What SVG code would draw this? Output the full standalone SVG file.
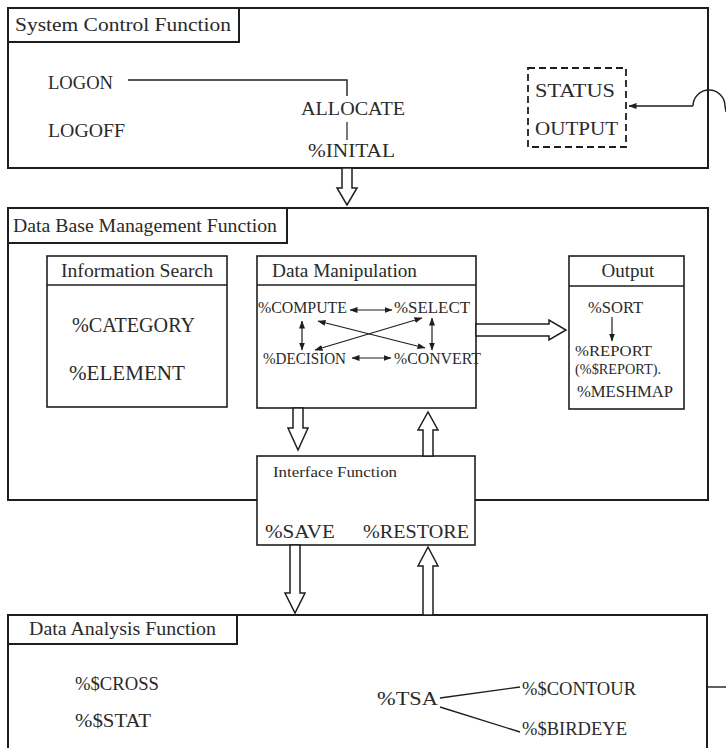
<svg xmlns="http://www.w3.org/2000/svg" width="726" height="748" viewBox="0 0 726 748">
<style>
  text { font-family: "Liberation Serif", "Times New Roman", serif; fill: #2a2a2a; }
  .frame { fill: none; stroke: #1e1e1e; stroke-width: 2; }
  .box { fill: #fff; stroke: #1e1e1e; stroke-width: 1.6; }
  .ln { fill: none; stroke: #1e1e1e; stroke-width: 1.4; }
  .thin { fill: none; stroke: #1e1e1e; stroke-width: 1.2; }
  .hollow { fill: #fff; stroke: #1e1e1e; stroke-width: 1.5; stroke-linejoin: miter; }
  .dash { fill: none; stroke: #1e1e1e; stroke-width: 1.8; stroke-dasharray: 7 4; }
  .t18 { font-size: 18px; }
  .t20 { font-size: 20px; }
  .t15 { font-size: 16px; }
  .t17 { font-size: 18px; }
  .t14 { font-size: 14px; }
</style>
<defs>
  <marker id="ah" markerWidth="8" markerHeight="6" refX="7.5" refY="3" orient="auto-start-reverse" markerUnits="userSpaceOnUse">
    <path d="M0,0 L8,3 L0,6 Z" fill="#1e1e1e"/>
  </marker>
</defs>
<rect width="726" height="748" fill="#fff"/>

<!-- System Control Function -->
<g id="system-control">
  <rect class="frame" x="8" y="8" width="700" height="160"/>
  <rect class="frame" x="8" y="8" width="231" height="34"/>
  <text class="t18" x="15" y="31" textLength="216" lengthAdjust="spacingAndGlyphs">System Control Function</text>
  <text class="t18" x="48" y="89" textLength="65" lengthAdjust="spacingAndGlyphs">LOGON</text>
  <text class="t18" x="48" y="137" textLength="77" lengthAdjust="spacingAndGlyphs">LOGOFF</text>
  <text class="t18" x="301" y="115" textLength="104" lengthAdjust="spacingAndGlyphs">ALLOCATE</text>
  <text class="t18" x="308" y="157" textLength="87" lengthAdjust="spacingAndGlyphs">%INITAL</text>
</g>
<g id="status-output">
  <rect class="dash" x="528" y="68" width="98" height="79"/>
  <text class="t18" x="535" y="97" textLength="80" lengthAdjust="spacingAndGlyphs">STATUS</text>
  <text class="t18" x="535" y="135" textLength="83" lengthAdjust="spacingAndGlyphs">OUTPUT</text>
</g>

<!-- Data Base Management Function -->
<g id="data-base-management">
  <rect class="frame" x="8" y="208" width="700" height="292"/>
  <rect class="frame" x="8" y="208" width="279" height="35"/>
  <text class="t18" x="13" y="232" textLength="264" lengthAdjust="spacingAndGlyphs">Data Base Management Function</text>
</g>
<g id="information-search">
  <rect class="box" x="47" y="256" width="180" height="151"/>
  <line class="ln" x1="47" y1="285" x2="227" y2="285"/>
  <text class="t17" x="61" y="277" textLength="152" lengthAdjust="spacingAndGlyphs">Information Search</text>
  <text class="t20" x="72" y="332" textLength="123" lengthAdjust="spacingAndGlyphs">%CATEGORY</text>
  <text class="t20" x="69" y="380" textLength="116" lengthAdjust="spacingAndGlyphs">%ELEMENT</text>
</g>
<g id="data-manipulation">
  <rect class="box" x="257" y="256" width="219" height="152"/>
  <line class="ln" x1="257" y1="285" x2="476" y2="285"/>
  <text class="t17" x="272" y="277" textLength="145" lengthAdjust="spacingAndGlyphs">Data Manipulation</text>
  <text class="t15" x="258" y="313" textLength="89" lengthAdjust="spacingAndGlyphs">%COMPUTE</text>
  <text class="t15" x="394" y="313" textLength="76" lengthAdjust="spacingAndGlyphs">%SELECT</text>
  <text class="t15" x="263" y="364" textLength="83" lengthAdjust="spacingAndGlyphs">%DECISION</text>
  <text class="t15" x="394" y="364" textLength="87" lengthAdjust="spacingAndGlyphs">%CONVERT</text>
</g>
<g id="output">
  <rect class="box" x="569" y="256" width="115" height="153"/>
  <line class="ln" x1="569" y1="286" x2="684" y2="286"/>
  <text x="628" y="277" text-anchor="middle" font-size="19">Output</text>
  <text class="t15" x="588" y="313" textLength="55" lengthAdjust="spacingAndGlyphs">%SORT</text>
  <text x="575" y="356" font-size="14" textLength="77" lengthAdjust="spacingAndGlyphs">%REPORT</text>
  <text x="575" y="374" font-size="14" textLength="86" lengthAdjust="spacingAndGlyphs">(%$REPORT).</text>
  <text class="t15" x="577" y="397" textLength="96" lengthAdjust="spacingAndGlyphs">%MESHMAP</text>
</g>
<g id="interface-function">
  <rect class="box" x="257" y="456" width="218" height="89"/>
  <text class="t14" x="273" y="477" textLength="124" lengthAdjust="spacingAndGlyphs">Interface Function</text>
  <text class="t18" x="265" y="538" textLength="70" lengthAdjust="spacingAndGlyphs">%SAVE</text>
  <text class="t18" x="363" y="538" textLength="106" lengthAdjust="spacingAndGlyphs">%RESTORE</text>
</g>

<!-- Data Analysis Function -->
<g id="data-analysis">
  <rect class="frame" x="8" y="615" width="699" height="150"/>
  <rect class="frame" x="8" y="615" width="229" height="29"/>
  <text class="t18" x="29" y="635" textLength="187" lengthAdjust="spacingAndGlyphs">Data Analysis Function</text>
  <text class="t18" x="75" y="690" textLength="84" lengthAdjust="spacingAndGlyphs">%$CROSS</text>
  <text class="t18" x="75" y="727" textLength="76" lengthAdjust="spacingAndGlyphs">%$STAT</text>
  <text class="t18" x="377" y="705" textLength="61" lengthAdjust="spacingAndGlyphs">%TSA</text>
  <text class="t18" x="522" y="695" textLength="114" lengthAdjust="spacingAndGlyphs">%$CONTOUR</text>
  <text class="t18" x="522" y="735" textLength="105" lengthAdjust="spacingAndGlyphs">%$BIRDEYE</text>
</g>

<!-- Connectors -->
<g id="connectors">
  <polyline class="ln" points="128,80 347,80 347,96"/>
  <line class="thin" x1="347" y1="122" x2="347" y2="140"/>
  <path class="ln" d="M693,106 L629,106" marker-end="url(#ah)"/>
  <path class="ln" d="M693,106 A16,16 0 0 1 725,106 L726,112"/>
  <polygon class="hollow" points="342,168 352,168 352,188 357,188 347,205 337,188 342,188"/>
  <polygon class="hollow" points="293,408 303,408 303,428 308,428 298,450 288,428 293,428"/>
  <polygon class="hollow" points="423,456 433,456 433,430 438,430 428,412 418,430 423,430"/>
  <polygon class="hollow" points="290,545 300,545 300,593 305,593 295,613 285,593 290,593"/>
  <polygon class="hollow" points="423,615 433,615 433,566 438,566 428,547 418,566 423,566"/>
  <polygon class="hollow" points="476,324 549,324 549,320 566,330 549,340 549,336 476,336"/>
  <line class="thin" x1="350" y1="310" x2="392" y2="310" marker-start="url(#ah)" marker-end="url(#ah)"/>
  <line class="thin" x1="352" y1="358" x2="391" y2="358" marker-start="url(#ah)" marker-end="url(#ah)"/>
  <line class="thin" x1="302" y1="321" x2="302" y2="350" marker-start="url(#ah)" marker-end="url(#ah)"/>
  <line class="thin" x1="432" y1="318" x2="432" y2="350" marker-start="url(#ah)" marker-end="url(#ah)"/>
  <line class="thin" x1="318" y1="321" x2="425" y2="348" marker-start="url(#ah)" marker-end="url(#ah)"/>
  <line class="thin" x1="422" y1="318" x2="315" y2="350" marker-start="url(#ah)" marker-end="url(#ah)"/>
  <line class="thin" x1="612" y1="317" x2="612" y2="341" marker-end="url(#ah)"/>
  <line class="ln" x1="440" y1="698" x2="520" y2="687"/>
  <line class="ln" x1="440" y1="707" x2="520" y2="732"/>
  <line class="ln" x1="707" y1="687" x2="726" y2="687"/>
</g>
</svg>
